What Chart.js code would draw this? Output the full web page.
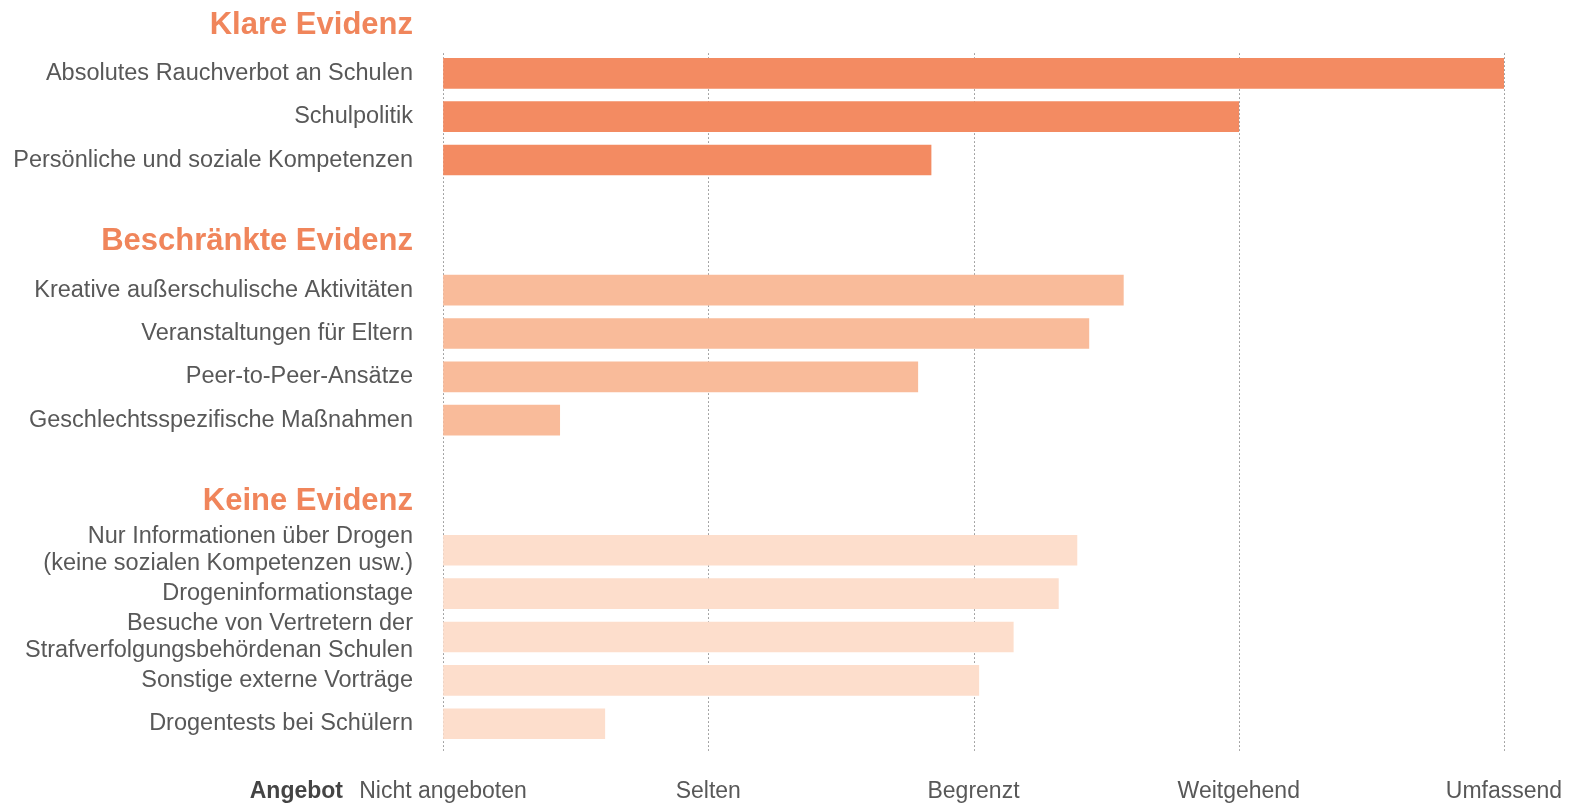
<!DOCTYPE html>
<html lang="de">
<head>
<meta charset="UTF-8">
<title>Schulische Präventionsmaßnahmen</title>
<script src="https://cdn.jsdelivr.net/npm/chart.js"></script>
<style>
    html, body { margin: 0; padding: 0; background: #fff; }
    #wrap { width: 1574px; height: 806px; position: relative; }
</style>
</head>
<body>
<div id="wrap"><canvas id="chart"></canvas></div>
<script>
// Gruppen / Kategorien
const groupNames = ['Klare Evidenz', 'Beschränkte Evidenz', 'Keine Evidenz'];

const klareLabels = ['Absolutes Rauchverbot an Schulen', 'Schulpolitik', 'Persönliche und soziale Kompetenzen'];
const klareValues = [4.0, 3.0, 1.84];

const beschrLabels = ['Kreative außerschulische Aktivitäten', 'Veranstaltungen für Eltern', 'Peer-to-Peer-Ansätze', 'Geschlechtsspezifische Maßnahmen'];
const beschrValues = [2.565, 2.435, 1.79, 0.44];

const keineLabels = [
    ['Nur Informationen über Drogen', '(keine sozialen Kompetenzen usw.)'],
    'Drogeninformationstage',
    ['Besuche von Vertretern der', 'Strafverfolgungsbehördenan Schulen'],
    'Sonstige externe Vorträge',
    'Drogentests bei Schülern'
];
const keineValues = [2.39, 2.32, 2.15, 2.02, 0.61];

// Skala
const scaleLabels = ['Nicht angeboten', 'Selten', 'Begrenzt', 'Weitgehend', 'Umfassend'];
const axisTitle = 'Angebot';

const groupColors = ['#f38b62', '#f9bb9a', '#fddecc'];
const headerColor = '#f0855b';
const textColor = '#585858';
const fontFamily = "'Liberation Sans', Arial, sans-serif";

// Zeilen zusammenbauen: Kopfzeile, Balken, Leerzeile
const rowLabels = [], rowValues = [], rowColors = [], headerRows = {};
[[klareLabels, klareValues], [beschrLabels, beschrValues], [keineLabels, keineValues]].forEach(([labels, values], g) => {
    if (g > 0) { rowLabels.push(''); rowValues.push(null); rowColors.push('transparent'); }
    headerRows[rowLabels.length] = groupNames[g];
    rowLabels.push(''); rowValues.push(null); rowColors.push('transparent');
    labels.forEach((l, i) => {
        rowLabels.push(l); rowValues.push(values[i]); rowColors.push(groupColors[g]);
    });
});

const gridAndHeaders = {
    id: 'gridAndHeaders',
    beforeDatasetsDraw(chart) {
        const { ctx, scales: { x, y } } = chart;
        const top = y.getPixelForValue(1) - 20;
        const bottom = y.getPixelForValue(rowLabels.length - 1) + 27;
        ctx.save();
        ctx.strokeStyle = '#8a8a8a';
        ctx.lineWidth = 1;
        ctx.setLineDash([1.5, 2.5]);
        for (let v = 0; v < scaleLabels.length; v++) {
            const px = Math.round(x.getPixelForValue(v)) + 0.5;
            ctx.beginPath();
            ctx.moveTo(px, top);
            ctx.lineTo(px, bottom);
            ctx.stroke();
        }
        ctx.restore();
    },
    afterDraw(chart) {
        const { ctx, chartArea, scales: { x, y } } = chart;
        ctx.save();
        ctx.textAlign = 'right';
        ctx.textBaseline = 'middle';
        ctx.fillStyle = headerColor;
        ctx.font = 'bold 31px ' + fontFamily;
        Object.keys(headerRows).forEach(i => {
            ctx.fillText(headerRows[i], chartArea.left - 30, y.getPixelForValue(+i) - 5);
        });
        ctx.fillStyle = '#444';
        ctx.font = 'bold 23px ' + fontFamily;
        ctx.fillText(axisTitle, chartArea.left - 100, x.top + 32 + 14);
        ctx.restore();
    }
};

const hiddenGrid = { display: true, drawOnChartArea: false, drawTicks: true, color: 'transparent' };

new Chart(document.getElementById('chart'), {
    type: 'bar',
    data: {
        labels: rowLabels,
        datasets: [{
            data: rowValues,
            backgroundColor: rowColors,
            barThickness: 30,
            borderWidth: 0
        }]
    },
    options: {
        indexAxis: 'y',
        responsive: true,
        maintainAspectRatio: false,
        animation: false,
        layout: { padding: { top: 0, right: 70, bottom: 1, left: 0 } },
        plugins: { legend: { display: false }, tooltip: { enabled: false } },
        scales: {
            x: {
                min: 0,
                max: 4,
                grid: Object.assign({ tickLength: 32 }, hiddenGrid),
                border: { display: false },
                ticks: {
                    stepSize: 1,
                    padding: 0,
                    maxRotation: 0,
                    color: textColor,
                    font: { family: fontFamily, size: 23 },
                    callback: v => scaleLabels[v]
                }
            },
            y: {
                grid: Object.assign({ tickLength: 35 }, hiddenGrid),
                border: { display: false },
                afterFit: s => { s.width = 443; },
                ticks: {
                    padding: -5,
                    autoSkip: false,
                    color: textColor,
                    font: { family: fontFamily, size: 23.5, lineHeight: 1.13 }
                }
            }
        }
    },
    plugins: [gridAndHeaders]
});
</script>
</body>
</html>
